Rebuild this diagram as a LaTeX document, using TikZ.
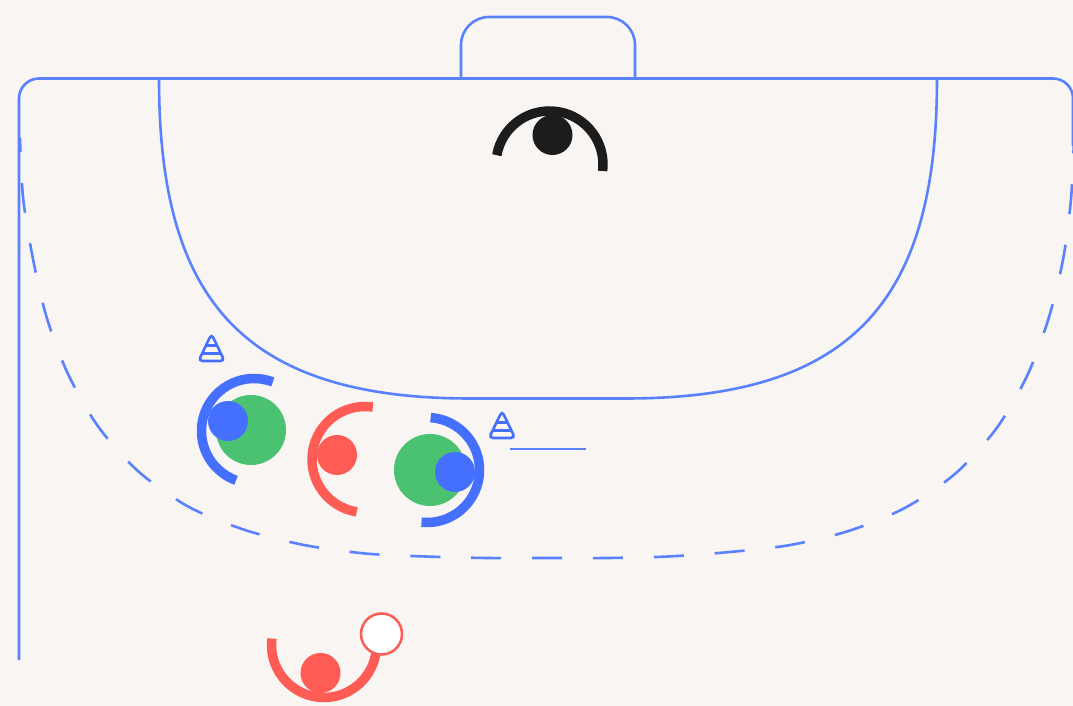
\documentclass[tikz,border=0pt]{standalone}
\definecolor{courtbg}{HTML}{F9F5F2}
\definecolor{courtline}{HTML}{5A82FF}
\definecolor{teamblue}{HTML}{4570FF}
\definecolor{teamred}{HTML}{FF5C55}
\definecolor{mark}{HTML}{4BC172}
\definecolor{keeper}{HTML}{1C1C1C}
\tikzset{
  court/.style={draw=courtline,line width=2.6pt},
  cone/.style={draw=teamblue,line width=2.6pt,rounded corners=4pt},
  disc/.style={circle,inner sep=0pt,minimum size=#1},
  reach/.style={line width=9.5pt},
}

\begin{document}
\begin{tikzpicture}[x=1pt,y=1pt]
      % \draw[help lines](0,0) grid (1073,706);
      \useasboundingbox (0,0) rectangle (1073,706);
      \clip (0,0) rectangle (1073,706);
      \fill [courtbg] (0,0) rectangle (1073,706);

      \draw [court,rounded corners=20pt] (19,46) -- (19,627.5) -- (1073,627.5) -- (1073,560);
      \draw [court,rounded corners=28pt] (461,627.5) -- (461,689) -- (635,689) -- (635,627.5);
      \draw [court] (159,627.5) .. controls (159,411) and (238,307.5) .. (470,307.5) -- (626,307.5) .. controls (858,307.5) and (937,411) .. (937,627.5);
      \draw [court,dash pattern=on 30pt off 30.9pt,dash phase=16pt] plot [smooth] coordinates {(20,568) (23,509) (32.8,448) (46.7,388.5) (68,332) (98.5,279) (139,234) (189,199) (245,176) (304,161) (365,152.5) (425.5,149.5) (486,148) (547,148) (607,148) (668,149.5) (730,154) (790.3,161) (849.5,175.3) (905.7,198.5) (955.7,232.7) (996.5,277.7) (1027,330) (1048.5,387.3) (1063,446.3) (1071,507) (1074,568)};
      \draw [court] (510,257) -- (586,257);

      % cones
      \draw [cone] (198.5,345) -- (224.5,345) -- (211.5,372) -- cycle;
      \draw [cone] (202.6,352.7) -- (220.4,352.7);
      \draw [cone] (206.1,360.3) -- (216.9,360.3);
      \draw [cone] (489,268) -- (515,268) -- (502,295) -- cycle;
      \draw [cone] (493.1,275.7) -- (510.9,275.7);
      \draw [cone] (496.6,283.3) -- (507.4,283.3);

      % keeper
      \draw [reach,keeper] (549.5,541.5) ++(170:53.5) arc (170:-7:53.5);
      \node [disc=40pt,fill=keeper] (keeperhead) at (552.5,571) {};

      % defenders
      \node [disc=70pt,fill=mark] (markleft) at (251,276) {};
      \draw [reach,teamblue] (254,275) ++(69:52.5) arc (69:250:52.5);
      \node [disc=40pt,fill=teamblue] (defleft) at (228,285) {};

      \node [disc=72pt,fill=mark] (markright) at (430,236) {};
      \draw [reach,teamblue] (427,236) ++(86:52.5) arc (86:-96:52.5);
      \node [disc=40pt,fill=teamblue] (defright) at (455,234) {};

      % attackers
      \draw [reach,teamred] (365,246.5) ++(81.5:53) arc (81.5:261:53);
      \node [disc=40pt,fill=teamred] (attmiddle) at (337,251) {};

      \draw [reach,teamred] (324,61) ++(173:52.5) arc (173:350:52.5);
      \node [disc=40pt,fill=teamred] (attbottom) at (320.5,33) {};
      \node [disc=41pt,fill=white,draw=teamred,line width=2.5pt] (ball) at (381.5,72) {};
    \end{tikzpicture}
\end{document}
